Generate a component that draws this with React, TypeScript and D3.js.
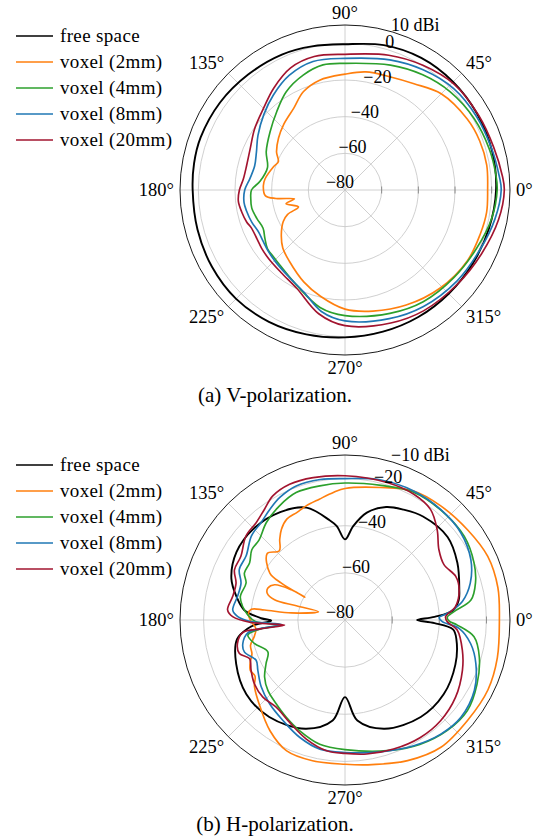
import React from "react";
import * as d3 from "d3";

// Legend entries and colours shared by both panels
const LEGEND_LABELS = ["free space", "voxel (2mm)", "voxel (4mm)", "voxel (8mm)", "voxel (20mm)"];
const SERIES_COLORS = ["#000000", "#ff7f0e", "#2ca02c", "#1f77b4", "#a2142f"];

// Angular grid (degrees, counter-clockwise from east)
const ANGLE_TICKS = [0, 45, 90, 135, 180, 225, 270, 315];

// Radial grids (dBi)
const V_RADIAL_TICKS = [-80, -60, -40, -20, 0, 10];
const H_RADIAL_TICKS = [-80, -60, -40, -20, -10];

// ---- V-polarization gain patterns: [angle deg, gain dBi] ----
const V_FREE_SPACE: [number, number][] = [
  [0, 2.4], [15, 3], [30, 3.2], [45, 3.4], [60, 3.2], [75, 1.8], [90, -0.5], [103, 0.4],
  [115, 1.5], [130, 2.2], [145, 3.2], [160, 3.8], [170, 3.6], [180, 3.1], [195, 3.3],
  [210, 3.8], [225, 4], [240, 3], [255, 1.5], [270, 0.4], [285, 0], [300, 0], [315, 0],
  [330, 0.4], [345, 1.3],
];
const V_VOXEL_2MM: [number, number][] = [
  [0, -2.2], [10, -1.5], [20, -1.8], [30, -2.9], [45, -5.8], [57, -10.9], [68, -13.5],
  [80, -14.6], [90, -16.8], [103, -18.5], [113, -21.8], [122, -27.3], [133, -31], [142, -34],
  [151, -37.3], [157, -40.5], [162, -39], [172, -36], [177, -35.4], [184, -36.4], [187, -42],
  [190, -52], [193, -47], [200, -53], [203, -46], [207, -42.2], [215, -37.6], [223, -33.6],
  [232, -30.7], [246, -25], [257, -20.5], [270, -15], [283, -12.2], [298, -8.9], [314, -5.5],
  [330, -2.9], [342, -2.4], [351, -1.8],
];
const V_VOXEL_4MM: [number, number][] = [
  [0, 3], [6, 2.7], [16, 1.8], [29, 0.5], [43, -1.5], [56, -4.2], [70, -7.5], [90, -10.9],
  [100, -10.7], [110, -13.3], [121, -17.6], [131, -23.3], [142, -28.2], [154, -32.2],
  [164, -36], [174, -33.5], [180, -29], [185, -28.4], [191, -28.2], [198, -29.5], [205, -30.7],
  [211, -29], [217, -27], [223, -26.6], [229, -25.8], [243, -21.8], [258, -14.5], [270, -11.5],
  [290, -8.4], [305, -5.6], [321, -3.8], [336, -1.5], [349, 1.5],
];
const V_VOXEL_8MM: [number, number][] = [
  [0, 5.2], [5, 4.5], [16, 3.1], [29, 2.2], [43, 1.1], [57, -1.8], [71, -4.9], [90, -8.2],
  [104, -7.8], [116, -10.5], [127, -15.1], [137, -19.5], [148, -24], [157, -27.5], [165, -29],
  [173, -27.8], [180, -25.3], [187, -24.5], [192, -25.1], [199, -26.2], [206, -27.6],
  [212, -27.3], [219, -26.4], [226, -25.5], [236, -23.8], [248, -20], [259, -12.5], [270, -8.6],
  [289, -5.8], [304, -3.4], [321, -1.3], [336, 0.5], [349, 3.3],
];
const V_VOXEL_20MM: [number, number][] = [
  [0, 6.9], [5, 6.2], [16, 4.4], [29, 3.5], [44, 2.9], [58, 0.2], [72, -2.7], [90, -6],
  [103, -5.3], [114, -7.1], [125, -12.2], [135, -17.1], [146, -20.5], [156, -23.5],
  [166, -24.7], [174, -24.2], [180, -22.4], [186, -21.5], [192, -22.4], [198, -23.6],
  [202, -24.9], [209, -25.1], [215, -24.5], [222, -24], [232, -23.1], [244, -20.2],
  [258, -11], [270, -6], [289, -3.3], [303, -1.4], [320, 0], [335, 2.2], [349, 5.3],
];

// ---- H-polarization gain patterns: [angle deg, gain dBi] ----
const H_FREE_SPACE: [number, number][] = [
  [0, -49.4], [2, -42], [5, -34], [10, -31], [15, -29.8], [27, -26.5], [39, -24], [53, -25],
  [62, -27], [70, -29], [78.5, -33.5], [85, -40], [90, -45.8], [95, -40], [99, -37],
  [109, -29.6], [121, -26.6], [135, -25.2], [148, -25.7], [160, -28.7], [168, -33],
  [174.3, -37], [178.8, -44.4], [180.5, -48.7], [183, -42], [185, -38.6], [190, -33.5],
  [202, -30.2], [217, -27.6], [232, -27.8], [250, -30.9], [263, -37], [270, -47.3],
  [277, -37], [290, -30.9], [308, -27.8], [323, -27.6], [338, -29.5], [350, -32],
  [355, -34], [358, -42],
];
const H_VOXEL_2MM: [number, number][] = [
  [0, -14.5], [12, -13.7], [24, -13.7], [36, -15.4], [50, -16.8], [62, -18], [75, -21.8],
  [90, -24.2], [95, -25.6], [102, -27.6], [109, -28.9], [114, -30], [120, -30.6], [125, -33],
  [129, -36], [133.5, -39.5], [139.5, -36.6], [148, -42.4], [149.9, -48.8], [150.4, -60.4],
  [150.6, -53.9], [153.4, -46.6], [157.5, -44.6], [161, -45.1], [164, -48.9], [163.7, -58.5],
  [162.6, -68.2], [172.5, -57], [172.9, -45.6], [173.5, -40], [176.4, -38.9], [181, -40.2],
  [185.4, -42], [190, -41], [195, -38.5], [200, -38], [204, -36], [208, -34.5], [212, -35],
  [216, -32.5], [224, -29.2], [236, -23.2], [246, -19.2], [257, -18.7], [270, -18.8],
  [279, -17.8], [294, -14.7], [307, -12.4], [321, -12.8], [334, -12.5], [346, -13.4],
];
const H_VOXEL_4MM: [number, number][] = [
  [1.5, -36.6], [4.4, -33.6], [9, -25.9], [16, -22.4], [24, -20.1], [35, -18.2], [47, -18.1],
  [62, -18.5], [75, -20.9], [90, -21.9], [100.6, -22.1], [111, -22.1], [120, -24.2],
  [129, -26.9], [137, -30.2], [143, -30.5], [149, -32.8], [155, -32.9], [159.5, -35.2],
  [167.4, -34.5], [172.5, -36.2], [177, -38.7], [181, -42], [184.3, -52.5], [186, -44],
  [188.8, -38.3], [194.5, -40.3], [202.4, -44.6], [209, -41.7], [215.3, -38.2], [222.4, -35.7],
  [230.6, -34], [238.9, -31.8], [247.8, -29.2], [258.5, -26.2], [270, -25], [288, -21.7],
  [301, -18.4], [313, -16.1], [323.5, -15.4], [334, -17.7], [344.6, -20.9], [352.6, -24.8],
  [357.4, -32.3], [359.5, -35.9],
];
const H_VOXEL_8MM: [number, number][] = [
  [1.5, -40], [4, -36], [9, -29.6], [16.4, -24.6], [25.6, -20.8], [37, -18.5], [49, -18],
  [62, -18], [76, -18.7], [90, -20], [100, -19.5], [110, -19.5], [118, -21.1], [124, -23.2],
  [131, -25.5], [138, -26.6], [147, -30], [154.5, -30.3], [160.5, -33.2], [167.7, -33.3],
  [175, -32.2], [178.2, -34.5], [181, -40], [184, -53], [186, -43], [187.5, -38.4],
  [193, -35.5], [197.6, -35.2], [204.4, -38.6], [210, -37.3], [218.7, -34.5], [228, -32.2],
  [238.3, -29.9], [249, -26.6], [259, -24.2], [270, -23.8], [285, -22.1], [298.7, -19.2],
  [310, -16.8], [320, -15.8], [331.4, -17.5], [341.6, -21.5], [349.4, -25.8], [355.8, -31.5],
  [359, -38.7],
];
const H_VOXEL_20MM: [number, number][] = [
  [1.9, -37.3], [6.9, -32.8], [14.8, -29.9], [21.5, -29.5], [29.2, -31.9], [36.9, -30.2],
  [44.5, -25.2], [52.3, -20.7], [61.3, -19.2], [73, -19], [90, -18.8], [102.6, -18.1],
  [112.2, -17.8], [120.2, -19.1], [126, -21.9], [132.4, -24.1], [139.7, -24.9], [148.5, -28.2],
  [155.6, -28.5], [161.3, -31.2], [168.2, -31.3], [175.1, -30], [178.3, -32.3], [181.5, -40],
  [184.8, -54.3], [186, -44], [187, -36.3], [192.3, -33.3], [197.6, -33], [202, -36.3],
  [208.2, -34.8], [215.1, -33], [223.2, -32.2], [231.7, -32.9], [241.6, -30.6], [252, -26.9],
  [262, -24], [270, -23.4], [279.2, -22.4], [290.6, -21.5], [302.7, -20.8], [313.5, -21.1],
  [325.1, -22.8], [336.8, -25.8], [345.6, -28.6], [354.9, -32.2], [359, -36.6],
];

const SERIF = "Liberation Serif";
const R = 165;
const CX = 345;

type Series = [number, number][];

interface PanelProps {
  cy: number;
  ticks: number[];
  series: Series[];
  caption: string;
  captionY: number;
  legendY: number;
}

function fmt(v: number): string {
  return v < 0 ? `\u2212${Math.abs(v)}` : `${v}`;
}

const textStyle = (size: number): React.CSSProperties => ({
  fontFamily: SERIF,
  fontSize: `${size}px`,
});

function PolarPanel({ cy, ticks, series, caption, captionY, legendY }: PanelProps) {
  const min = ticks[0];
  const max = ticks[ticks.length - 1];
  const r = d3.scaleLinear().domain([min, max]).range([0, R]);
  const rad = (deg: number) => (deg * Math.PI) / 180;

  const line = d3
    .lineRadial<[number, number]>()
    .angle((d) => rad(90 - d[0]))
    .radius((d) => r(Math.max(min, d[1])))
    .curve(d3.curveCatmullRomClosed.alpha(0.5));

  const rings = ticks.slice(1, -1);

  return (
    <g>
      {/* legend */}
      {LEGEND_LABELS.map((label, i) => (
        <g key={label} transform={`translate(0, ${legendY + i * 26})`}>
          <line x1={16} x2={53} y1={0} y2={0} stroke={SERIES_COLORS[i]} strokeWidth={1.7} />
          <text x={60} y={5.5} style={{ ...textStyle(19), letterSpacing: "0.35px" }}>
            {label}
          </text>
        </g>
      ))}

      <g transform={`translate(${CX}, ${cy})`}>
        {/* spokes */}
        {ANGLE_TICKS.map((a) => (
          <line
            key={`s${a}`}
            x1={0}
            y1={0}
            x2={R * Math.cos(rad(a))}
            y2={-R * Math.sin(rad(a))}
            stroke="#c4c4c4"
            strokeWidth={0.8}
          />
        ))}
        {/* rings */}
        {rings.map((t) => (
          <circle key={`c${t}`} r={r(t)} fill="none" stroke="#c4c4c4" strokeWidth={0.8} />
        ))}
        {/* radial ticks on the 0° axis */}
        {rings.map((t) => (
          <line key={`t${t}`} x1={r(t)} x2={r(t)} y1={-3.5} y2={3.5} stroke="#777" strokeWidth={0.8} />
        ))}
        <circle r={R} fill="none" stroke="#000" strokeWidth={0.9} />

        {/* patterns */}
        {series.map((s, i) => (
          <path
            key={`p${i}`}
            d={line(s) ?? ""}
            fill="none"
            stroke={SERIES_COLORS[i]}
            strokeWidth={i === 0 ? 1.9 : 1.65}
            strokeLinejoin="round"
          />
        ))}

        {/* radial labels */}
        {ticks.map((t, i) => {
          const rr = r(t);
          const y = -2.3 - 0.95 * rr;
          if (i === ticks.length - 1) {
            return (
              <text key={`l${t}`} x={46} y={y} style={textStyle(18)} textAnchor="start">
                {`${fmt(t)} dBi`}
              </text>
            );
          }
          return (
            <text key={`l${t}`} x={-5 + 0.34 * rr} y={y} style={textStyle(18)} textAnchor="middle">
              {fmt(t)}
            </text>
          );
        })}

        {/* angular labels */}
        {ANGLE_TICKS.map((a) => {
          const c = Math.cos(rad(a));
          const s = Math.sin(rad(a));
          const pad = 6;
          const x = (R + pad) * c;
          const yy = -(R + pad) * s;
          const anchor = c > 0.3 ? "start" : c < -0.3 ? "end" : "middle";
          const dy = s > 0.3 ? 0 : s < -0.3 ? 12.5 : 6;
          return (
            <text key={`a${a}`} x={x} y={yy + dy} style={textStyle(18.5)} textAnchor={anchor}>
              {`${a}\u00b0`}
            </text>
          );
        })}
      </g>

      <text x={275} y={captionY} style={textStyle(21)} textAnchor="middle">
        {caption}
      </text>
    </g>
  );
}

export default function App() {
  return (
    <svg
      width={536}
      height={836}
      viewBox="0 0 536 836"
      style={{ position: "absolute", left: 0, top: 0, background: "#fff" }}
    >
      <rect width={536} height={836} fill="#fff" />
      <PolarPanel
        cy={190}
        ticks={V_RADIAL_TICKS}
        series={[V_FREE_SPACE, V_VOXEL_2MM, V_VOXEL_4MM, V_VOXEL_8MM, V_VOXEL_20MM]}
        caption="(a) V-polarization."
        captionY={402}
        legendY={36}
      />
      <PolarPanel
        cy={620}
        ticks={H_RADIAL_TICKS}
        series={[H_FREE_SPACE, H_VOXEL_2MM, H_VOXEL_4MM, H_VOXEL_8MM, H_VOXEL_20MM]}
        caption="(b) H-polarization."
        captionY={831}
        legendY={465}
      />
    </svg>
  );
}
